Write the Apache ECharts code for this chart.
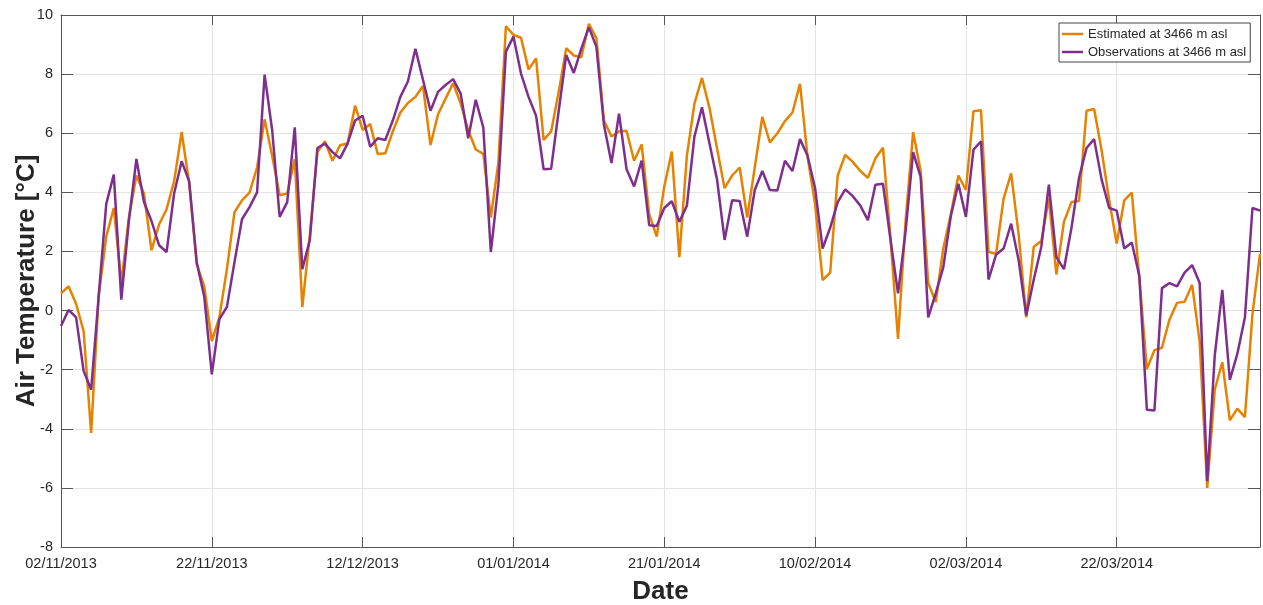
<!DOCTYPE html>
<html>
<head>
<meta charset="utf-8">
<script src="https://cdn.jsdelivr.net/npm/echarts@6/dist/echarts.min.js"></script>
<style>
html, body { margin: 0; padding: 0; background: #fff; }
#main { width: 1263px; height: 605px; }
</style>
</head>
<body>
<div id="main"></div>
<script>
// daily categories, 02/11/2013 .. 10/04/2014
var startDay = Date.UTC(2013, 10, 2);
var nDays = 160;
var dates = [];
for (var i = 0; i < nDays; i++) {
  var d = new Date(startDay + i * 86400000);
  var dd = ('0' + d.getUTCDate()).slice(-2);
  var mm = ('0' + (d.getUTCMonth() + 1)).slice(-2);
  dates.push(dd + '/' + mm + '/' + d.getUTCFullYear());
}

var estimated = [
  0.58, 0.82, 0.23, -0.7, -4.14, 0.5, 2.5, 3.47, 0.93, 3.15, 4.57, 3.96, 2.04, 2.91, 3.43, 4.37, 6.04, 4.31, 1.57, 0.82,
  -1.03, -0.23, 1.4, 3.32, 3.73, 3.99, 4.84, 6.47, 5.24, 3.9, 3.96, 5.13, 0.12, 2.56, 5.36, 5.73, 5.07, 5.59, 5.65, 6.93,
  6.11, 6.31, 5.3, 5.32, 6.06, 6.7, 7.02, 7.23, 7.6, 5.6, 6.64, 7.17, 7.69, 7.0, 6.11, 5.45, 5.3, 3.15, 5.01, 9.62,
  9.33, 9.23, 8.16, 8.53, 5.77, 6.06, 7.4, 8.88, 8.63, 8.57, 9.7, 9.21, 6.43, 5.89, 6.06, 6.08, 5.07, 5.62, 3.26, 2.5,
  4.2, 5.38, 1.81, 5.24, 7.0, 7.87, 6.85, 5.48, 4.14, 4.57, 4.84, 3.15, 4.84, 6.55, 5.69, 6.0, 6.41, 6.7, 7.67, 5.2,
  3.6, 1.03, 1.28, 4.57, 5.27, 5.03, 4.72, 4.49, 5.15, 5.51, 2.45, -0.96, 3.03, 6.04, 4.72, 0.93, 0.29, 2.1, 3.26, 4.57,
  4.08, 6.74, 6.78, 1.98, 1.92, 3.79, 4.64, 2.56, -0.23, 2.16, 2.35, 3.79, 1.22, 3.0, 3.67, 3.71, 6.76, 6.82, 5.42, 3.73,
  2.27, 3.73, 3.99, 1.1, -1.98, -1.34, -1.26, -0.3, 0.26, 0.3, 0.87, -1.05, -6.0, -2.68, -1.75, -3.71, -3.32, -3.61, -0.12, 1.92
];

var observed = [
  -0.52, 0.02, -0.23, -2.04, -2.68, 0.5, 3.61, 4.6, 0.37, 3.03, 5.13, 3.67, 3.03, 2.21, 1.98, 3.96, 5.05, 4.37, 1.63, 0.47,
  -2.16, -0.29, 0.12, 1.63, 3.09, 3.5, 4.0, 7.98, 6.11, 3.17, 3.67, 6.2, 1.4, 2.39, 5.5, 5.65, 5.36, 5.15, 5.65, 6.43,
  6.59, 5.54, 5.83, 5.77, 6.43, 7.23, 7.75, 8.86, 7.81, 6.76, 7.4, 7.63, 7.83, 7.34, 5.83, 7.13, 6.2, 1.98, 4.26, 8.76,
  9.27, 8.02, 7.23, 6.59, 4.78, 4.8, 6.76, 8.65, 8.04, 8.86, 9.58, 8.92, 6.29, 4.99, 6.66, 4.78, 4.2, 5.07, 2.89, 2.86,
  3.47, 3.7, 3.0, 3.55, 5.89, 6.88, 5.65, 4.43, 2.39, 3.73, 3.71, 2.5, 4.08, 4.72, 4.08, 4.06, 5.07, 4.72, 5.8, 5.24,
  4.14, 2.1, 2.8, 3.67, 4.1, 3.87, 3.55, 3.06, 4.26, 4.29, 2.4, 0.58, 2.68, 5.36, 4.52, -0.23, 0.58, 1.46, 3.2, 4.29,
  3.17, 5.44, 5.73, 1.05, 1.89, 2.1, 2.94, 1.69, -0.17, 1.05, 2.16, 4.26, 1.81, 1.4, 2.8, 4.49, 5.5, 5.8, 4.43, 3.47,
  3.38, 2.1, 2.3, 1.17, -3.36, -3.38, 0.76, 0.93, 0.82, 1.28, 1.54, 0.93, -5.77, -1.52, 0.7, -2.35, -1.46, -0.23, 3.47, 3.38
];

var seriesNames = ['Estimated at 3466 m asl', 'Observations at 3466 m asl'];
var seriesColors = ['#E68200', '#7E2F8E'];

var chart = echarts.init(document.getElementById('main'));

var fontFam = '"Liberation Sans", Arial, Helvetica, sans-serif';
var axisCol = '#555555';
var textCol = '#262626';

var option = {
  backgroundColor: '#ffffff',
  animation: false,
  textStyle: { fontFamily: fontFam },
  grid: {
    left: 61,
    right: 3,
    top: 15,
    bottom: 58,
    containLabel: false,
    outerBoundsMode: 'none'
  },
  legend: {
    orient: 'vertical',
    left: 1059,
    top: 23,
    padding: [3, 4, 2, 3],
    itemWidth: 21,
    itemHeight: 2.5,
    itemGap: 2,
    itemTextGap: 2,
    icon: 'rect',
    backgroundColor: '#ffffff',
    borderColor: '#444444',
    borderWidth: 1,
    textStyle: {
      fontFamily: fontFam,
      fontSize: 13,
      color: textCol,
      lineHeight: 16
    },
    data: seriesNames
  },
  xAxis: [{
    type: 'category',
    data: dates,
    boundaryGap: false,
    position: 'bottom',
    name: 'Date',
    nameLocation: 'middle',
    nameGap: 32,
    nameTextStyle: {
      fontFamily: fontFam,
      fontSize: 26,
      fontWeight: 'bold',
      color: textCol
    },
    axisLine: { show: true, onZero: false, lineStyle: { color: axisCol, width: 1 } },
    axisTick: { show: true, inside: true, length: 10, interval: 19, lineStyle: { color: axisCol } },
    axisLabel: {
      interval: 19,
      margin: 9,
      fontFamily: fontFam,
      fontSize: 14.5,
      color: textCol
    },
    splitLine: { show: true, interval: 19, lineStyle: { color: '#e3e3e3', width: 1 } }
  }, {
    type: 'category',
    data: dates,
    boundaryGap: false,
    position: 'top',
    axisLine: { show: true, onZero: false, lineStyle: { color: axisCol, width: 1 } },
    axisTick: { show: true, inside: true, length: 10, interval: 19, lineStyle: { color: axisCol } },
    axisLabel: { show: false, interval: 19 },
    splitLine: { show: false }
  }],
  yAxis: [{
    type: 'value',
    min: -8,
    max: 10,
    interval: 2,
    position: 'left',
    name: 'Air Temperature [°C]',
    nameLocation: 'middle',
    nameGap: 21,
    nameMoveOverlap: false,
    nameTextStyle: {
      fontFamily: fontFam,
      fontSize: 26,
      fontWeight: 'bold',
      color: textCol
    },
    axisLine: { show: true, onZero: false, lineStyle: { color: axisCol, width: 1 } },
    axisTick: { show: true, inside: true, length: 12, lineStyle: { color: axisCol } },
    axisLabel: {
      margin: 8,
      fontFamily: fontFam,
      fontSize: 14.5,
      color: textCol
    },
    splitLine: { show: true, lineStyle: { color: '#e3e3e3', width: 1 } }
  }, {
    type: 'value',
    min: -8,
    max: 10,
    interval: 2,
    position: 'right',
    axisLine: { show: true, onZero: false, lineStyle: { color: axisCol, width: 1 } },
    axisTick: { show: true, inside: true, length: 12, lineStyle: { color: axisCol } },
    axisLabel: { show: false },
    splitLine: { show: false }
  }],
  series: [{
    name: seriesNames[0],
    type: 'line',
    data: estimated,
    symbol: 'none',
    color: seriesColors[0],
    lineStyle: { color: seriesColors[0], width: 2.5 }
  }, {
    name: seriesNames[1],
    type: 'line',
    data: observed,
    symbol: 'none',
    color: seriesColors[1],
    lineStyle: { color: seriesColors[1], width: 2.5 }
  }]
};

chart.setOption(option);
</script>
</body>
</html>
